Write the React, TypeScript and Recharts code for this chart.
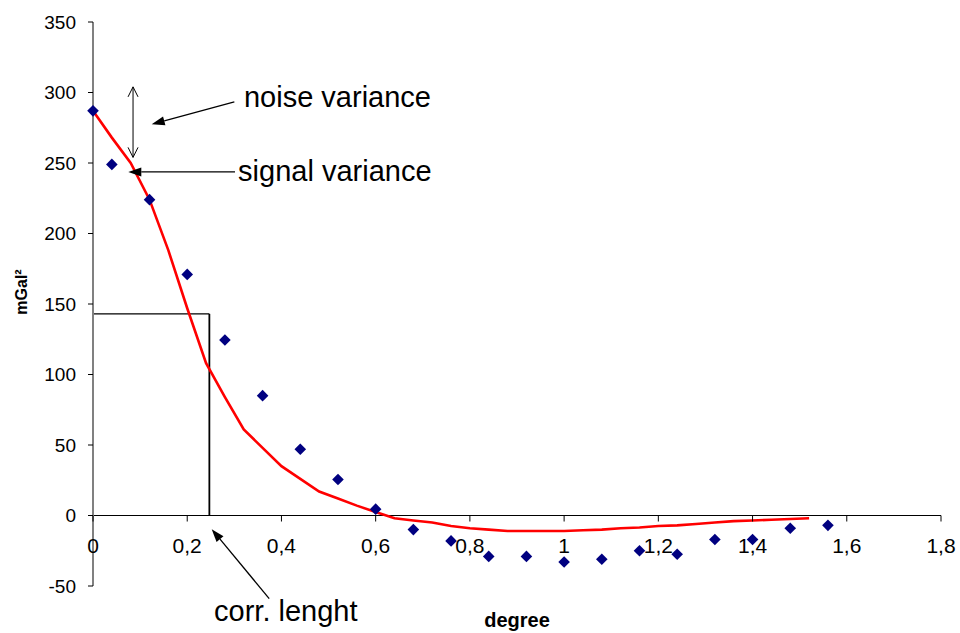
import React from "react";
import {
  ComposedChart,
  Line,
  Scatter,
  XAxis,
  YAxis,
  ReferenceLine,
  ReferenceDot,
} from "recharts";

// empirical covariances (diamonds)
const lagDeg = [
  0, 0.04, 0.12, 0.2, 0.28, 0.36, 0.44, 0.52, 0.6, 0.68, 0.76, 0.84, 0.92, 1.0,
  1.08, 1.16, 1.24, 1.32, 1.4, 1.48, 1.56,
];
const empiricalCov = [
  287, 249, 224, 171, 124.5, 85, 47, 25.5, 4.5, -10, -18, -29, -29, -33, -31,
  -25, -27.5, -17, -17, -9, -7,
];

// fitted covariance model (red line)
const modelLag = [
  0, 0.04, 0.08, 0.12, 0.16, 0.2, 0.24, 0.28, 0.32, 0.36, 0.4, 0.44, 0.48, 0.52,
  0.56, 0.6, 0.64, 0.68, 0.72, 0.76, 0.8, 0.84, 0.88, 0.92, 0.96, 1.0, 1.04,
  1.08, 1.12, 1.16, 1.2, 1.24, 1.28, 1.32, 1.36, 1.4, 1.44, 1.48, 1.52,
];
const modelCov = [
  287, 268, 250, 224, 188, 147, 108, 84, 61, 48, 35, 26, 17, 12, 7, 2.5, -2,
  -3.5, -5, -7.5, -9, -10, -11, -11, -11, -11, -10.5, -10, -9, -8.5, -7.5, -7,
  -6, -5, -4, -3.5, -3, -2.5, -2,
];

const xTicks = [0, 0.2, 0.4, 0.6, 0.8, 1, 1.2, 1.4, 1.6, 1.8];
const yTicks = [-50, 0, 50, 100, 150, 200, 250, 300, 350];

const corrLength = 0.247;
const halfCov = 143;

const FONT = "'Liberation Sans', Arial, sans-serif";
const W = 960;
const H = 633;
const X_AXIS_H = 30;
const MARGIN = { top: 22, right: 19, bottom: 17, left: 0 };
const Y_MIN = -50;
const Y_MAX = 350;
const PLOT_H = H - MARGIN.top - MARGIN.bottom - X_AXIS_H;
const ZERO_Y = MARGIN.top + (PLOT_H * Y_MAX) / (Y_MAX - Y_MIN);

const points = lagDeg.map((x, i) => ({ x, y: empiricalCov[i] }));
const model = modelLag.map((x, i) => ({ x, y: modelCov[i] }));

const Diamond = (p: any) => {
  const { cx, cy } = p;
  const r = 5.8;
  return (
    <polygon
      points={`${cx},${cy - r} ${cx + r},${cy} ${cx},${cy + r} ${cx - r},${cy}`}
      fill="#000080"
    />
  );
};

const XTick = (p: any) => {
  const { x, payload } = p;
  return (
    <g>
      <line x1={x} x2={x} y1={ZERO_Y} y2={ZERO_Y + 6} stroke="#000" />
      <text
        x={x}
        y={ZERO_Y + 37}
        textAnchor="middle"
        fontSize={21}
        fontFamily={FONT}
        fill="#000"
      >
        {String(payload.value).replace(".", ",")}
      </text>
    </g>
  );
};

// solid arrow with filled head at the second point
const solidArrow = (p: any) => {
  const { x1, y1, x2, y2 } = p;
  const len = Math.hypot(x2 - x1, y2 - y1) || 1;
  const ux = (x2 - x1) / len;
  const uy = (y2 - y1) / len;
  const L = 13;
  const w = 4.5;
  const bx = x2 - ux * L;
  const by = y2 - uy * L;
  return (
    <g>
      <line x1={x1} y1={y1} x2={bx} y2={by} stroke="#000" strokeWidth={1.3} />
      <polygon
        points={`${x2},${y2} ${bx - uy * w},${by + ux * w} ${bx + uy * w},${by - ux * w}`}
        fill="#000"
      />
    </g>
  );
};

// thin double arrow with open heads
const doubleArrow = (p: any) => {
  const { x1, y1, x2, y2 } = p;
  const len = Math.hypot(x2 - x1, y2 - y1) || 1;
  const ux = (x2 - x1) / len;
  const uy = (y2 - y1) / len;
  const L = 10;
  const w = 5;
  const head = (tx: number, ty: number, dx: number, dy: number) => {
    const bx = tx - dx * L;
    const by = ty - dy * L;
    return `M${bx - dy * w},${by + dx * w} L${tx},${ty} L${bx + dy * w},${by - dx * w}`;
  };
  return (
    <g stroke="#000" strokeWidth={1} fill="none">
      <line x1={x1} y1={y1} x2={x2} y2={y2} />
      <path d={head(x2, y2, ux, uy)} />
      <path d={head(x1, y1, -ux, -uy)} />
    </g>
  );
};

const note = (text: string) => (p: any) => (
  <text x={p.cx} y={p.cy} fontSize={29} fontFamily={FONT} fill="#000">
    {text}
  </text>
);

export default function App() {
  return (
    <div style={{ position: "absolute", left: 0, top: 0, background: "#fff" }}>
      <ComposedChart width={W} height={H} margin={MARGIN}>
        <XAxis
          type="number"
          dataKey="x"
          domain={[0, 1.8]}
          ticks={xTicks}
          interval={0}
          axisLine={false}
          tickLine={false}
          tick={XTick}
          height={X_AXIS_H}
          label={{
            content: (p: any) => {
              const vb = p.viewBox;
              return (
                <text
                  x={vb.x + vb.width / 2}
                  y={vb.y + 41}
                  textAnchor="middle"
                  fontSize={20}
                  fontWeight="bold"
                  fontFamily={FONT}
                  fill="#000"
                >
                  degree
                </text>
              );
            },
          }}
        />
        <YAxis
          type="number"
          domain={[Y_MIN, Y_MAX]}
          ticks={yTicks}
          interval={0}
          width={93}
          tickSize={5}
          tickMargin={12}
          tick={{ fontSize: 19, fill: "#000", fontFamily: FONT }}
          axisLine={{ stroke: "#808080", strokeWidth: 2 }}
          tickLine={{ stroke: "#000" }}
          label={{
            content: () => (
              <text
                x={27}
                y={292}
                transform="rotate(-90, 27, 292)"
                textAnchor="middle"
                fontSize={16}
                fontWeight="bold"
                fontFamily={FONT}
                fill="#000"
              >
                mGal²
              </text>
            ),
          }}
        />
        <ReferenceLine y={0} stroke="#000" strokeWidth={1} />
        <ReferenceLine
          segment={[
            { x: 0, y: halfCov },
            { x: corrLength, y: halfCov },
          ]}
          stroke="#000"
          strokeWidth={1.3}
        />
        <ReferenceLine
          segment={[
            { x: corrLength, y: halfCov },
            { x: corrLength, y: 0 },
          ]}
          stroke="#000"
          strokeWidth={1.8}
        />
        <Line
          data={model}
          dataKey="y"
          type="linear"
          stroke="#ff0000"
          strokeWidth={2.6}
          dot={false}
          isAnimationActive={false}
        />
        <Scatter
          data={points}
          dataKey="y"
          shape={Diamond}
          isAnimationActive={false}
        />
        <ReferenceLine
          segment={[
            { x: 0.085, y: 254 },
            { x: 0.085, y: 304 },
          ]}
          shape={doubleArrow}
          ifOverflow="visible"
        />
        <ReferenceLine
          segment={[
            { x: 0.3, y: 293.4 },
            { x: 0.1246, y: 277.5 },
          ]}
          shape={solidArrow}
          ifOverflow="visible"
        />
        <ReferenceLine
          segment={[
            { x: 0.3014, y: 243.7 },
            { x: 0.0749, y: 243.7 },
          ]}
          shape={solidArrow}
          ifOverflow="visible"
        />
        <ReferenceLine
          segment={[
            { x: 0.374, y: -58.9 },
            { x: 0.252, y: -9.7 },
          ]}
          shape={solidArrow}
          ifOverflow="visible"
        />
        <ReferenceDot x={0.3205} y={289.6} r={0} shape={note("noise variance")} ifOverflow="visible" />
        <ReferenceDot x={0.308} y={237.1} r={0} shape={note("signal variance")} ifOverflow="visible" />
        <ReferenceDot x={0.257} y={-74.8} r={0} shape={note("corr. lenght")} ifOverflow="visible" />
      </ComposedChart>
    </div>
  );
}
